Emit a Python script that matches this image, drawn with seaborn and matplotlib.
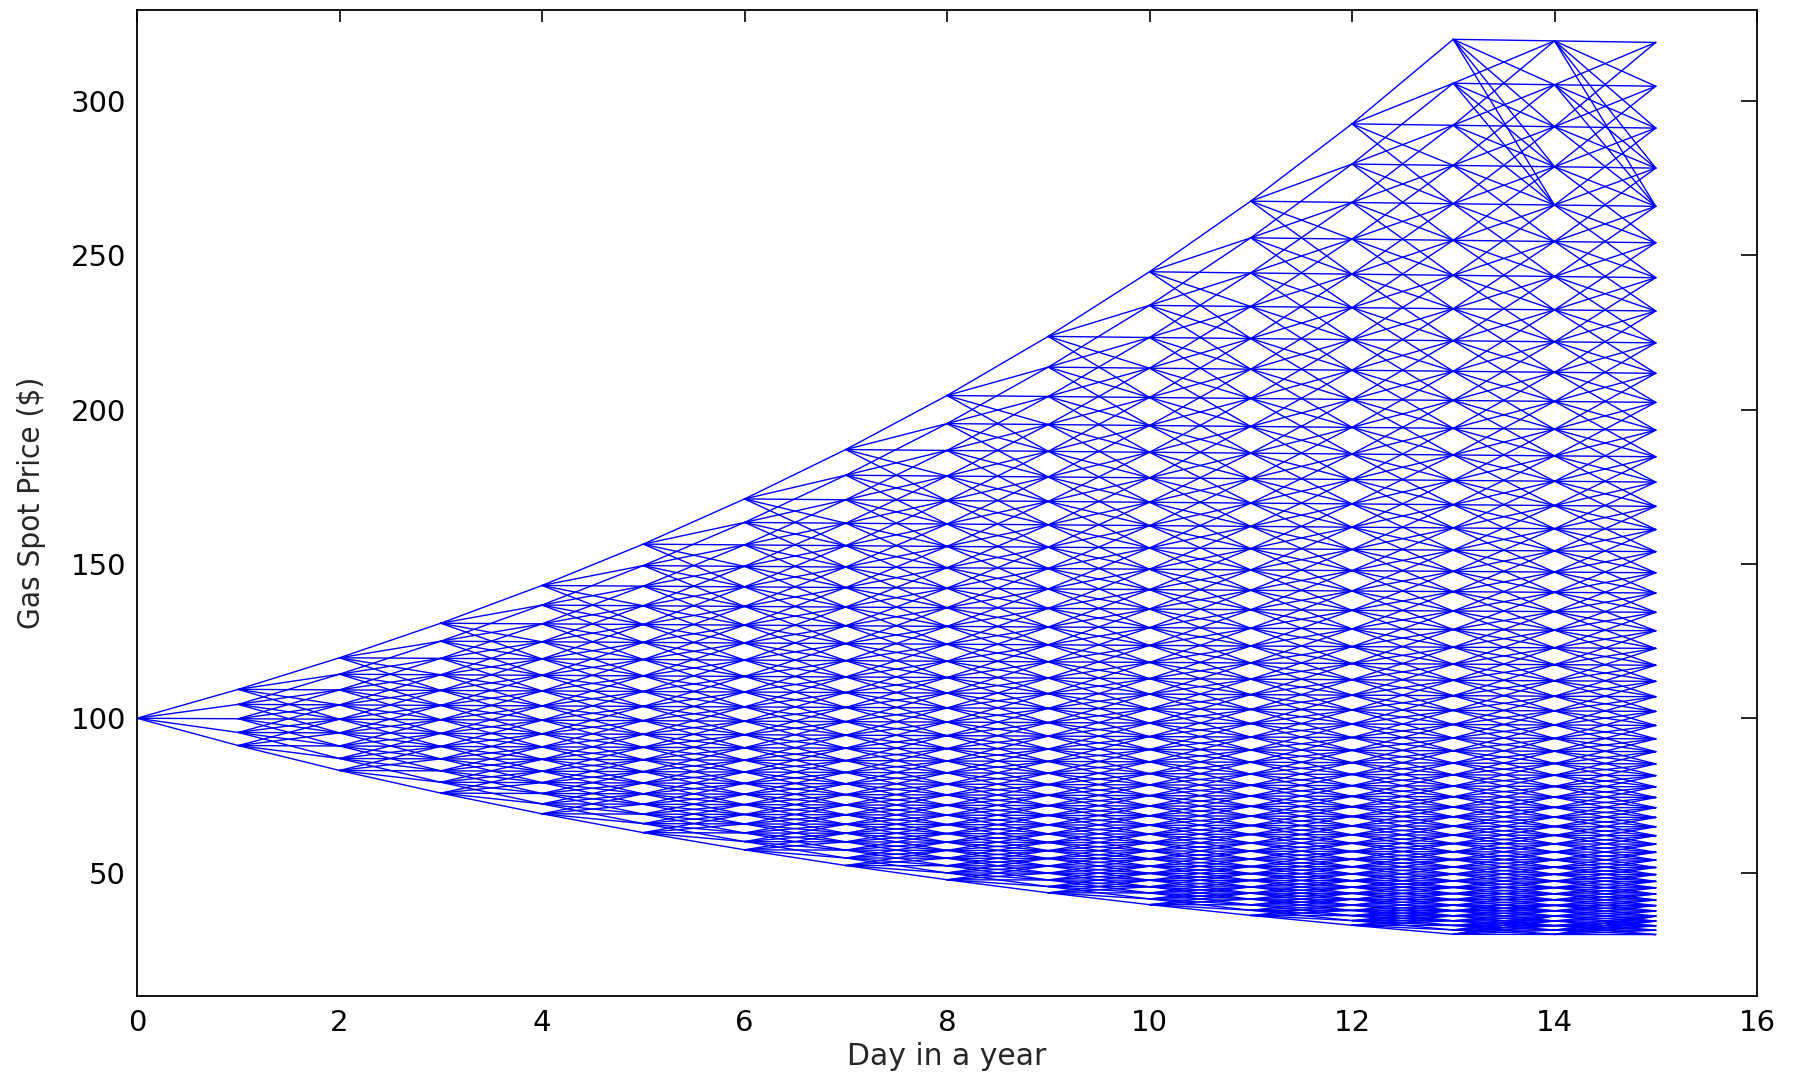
import numpy as np
import pandas as pd
import matplotlib
matplotlib.use("Agg")
import matplotlib.pyplot as plt
from matplotlib import font_manager
import seaborn as sns

# trading days shown on the x axis
days = list(range(16))
# highest lattice level reached on each day (tree is symmetric, -level..+level)
max_level = [0, 2, 4, 6, 8, 10, 12, 14, 16, 18, 20, 22, 24, 26, 26, 26]

# price of each lattice level (level -26 .. +26) before the daily drift
level_prices = [
    30.62, 32.05, 33.54, 35.10, 36.74, 38.44, 40.23, 42.11, 44.07, 46.12,
    48.27, 50.52, 52.87, 55.33, 57.91, 60.61, 63.43, 66.38, 69.48, 72.71,
    76.10, 79.64, 83.35, 87.24, 91.30, 95.55, 100.00, 104.66, 109.53, 114.63,
    119.97, 125.56, 131.41, 137.53, 143.93, 150.64, 157.65, 165.00, 172.68,
    180.73, 189.14, 197.95, 207.17, 216.82, 226.92, 237.49, 248.55, 260.13,
    272.22, 284.90, 298.17, 312.06, 326.59,
]
# small downward drift applied to all nodes of a day
day_factor = [1.0, 0.99843, 0.99686, 0.99530, 0.99374, 0.99218, 0.99062,
              0.98907, 0.98752, 0.98597, 0.98442, 0.98288, 0.98134, 0.97980,
              0.97826, 0.97673]

x_ticks = [0, 2, 4, 6, 8, 10, 12, 14, 16]
y_ticks = [50, 100, 150, 200, 250, 300]

center = 26  # index of level 0 in level_prices


def node_price(t, k):
    return level_prices[center + k] * day_factor[t]


def narrow_font():
    # y label in the original is a tall, narrow sans; use a narrow face if one exists
    tries = [("Liberation Sans Narrow", "normal"), ("DejaVu Sans", "condensed"),
             ("Roboto Condensed", "normal")]
    for fam, stretch in tries:
        try:
            path = font_manager.findfont(
                font_manager.FontProperties(family=fam, stretch=stretch),
                fallback_to_default=False)
        except Exception:
            continue
        low = path.lower()
        if "narrow" in low or "condensed" in low:
            return dict(fname=path, size=22.5)
    return dict(family="Liberation Sans", size=20.5)


# build one row per segment end point, each branch is its own unit
rows = []
edge_id = 0
for t in days[:-1]:
    k_now = max_level[t]
    k_next = max_level[t + 1]
    for k in range(-k_now, k_now + 1):
        lo = min(max(k - 2, -k_next), k_next - 4)
        for j in range(lo, lo + 5):
            rows.append((edge_id, days[t], node_price(t, k)))
            rows.append((edge_id, days[t + 1], node_price(t + 1, j)))
            edge_id += 1
tree = pd.DataFrame(rows, columns=["edge", "day", "price"])

sns.set_style("white")
plt.rcParams["font.family"] = ["DejaVu Sans"]

fig = plt.figure(figsize=(17.94, 10.74), dpi=100)
ax = fig.add_axes([137 / 1794, 1 - 996 / 1074, 1620 / 1794, 986 / 1074])

sns.lineplot(data=tree, x="day", y="price", units="edge", estimator=None,
             color="#0000ff", linewidth=1.0, ax=ax, legend=False)

ax.set_xlim(0, 16)
ax.set_ylim(10, 329.5)
ax.set_xticks(x_ticks)
ax.set_yticks(y_ticks)
ax.tick_params(axis="both", direction="in", top=True, right=True,
               labelsize=21, colors="black", width=1.2)
ax.tick_params(axis="x", length=8.6, pad=9.5)
ax.tick_params(axis="y", length=11.5, pad=8)
for side in ax.spines.values():
    side.set_visible(True)
    side.set_color("black")
    side.set_linewidth(1.3)

ax.set_xlabel("Day in a year", fontsize=21.5)
ax.set_ylabel("Gas Spot Price ($)",
              fontproperties=font_manager.FontProperties(**narrow_font()))
ax.xaxis.set_label_coords(0.5, -0.047)
ax.yaxis.set_label_coords(-0.0562, 0.5)

fig.savefig("out.png", dpi=100)
